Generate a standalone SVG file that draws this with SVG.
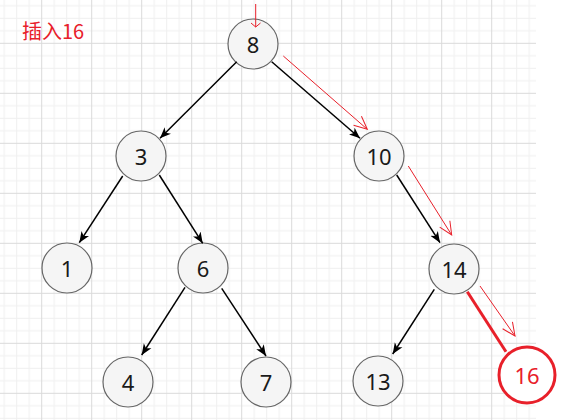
<svg xmlns="http://www.w3.org/2000/svg" width="566" height="420" viewBox="0 0 566 420">
  <defs>
    <pattern id="grid" patternUnits="userSpaceOnUse" x="41.2" y="42.8" width="50" height="50">
      <rect x="12.5" y="0" width="1" height="50" fill="#efefef"/>
      <rect x="25" y="0" width="1" height="50" fill="#efefef"/>
      <rect x="37.5" y="0" width="1" height="50" fill="#efefef"/>
      <rect x="0" y="12.5" width="50" height="1" fill="#efefef"/>
      <rect x="0" y="25" width="50" height="1" fill="#efefef"/>
      <rect x="0" y="37.5" width="50" height="1" fill="#efefef"/>
      <rect x="0" y="0" width="1" height="50" fill="#dadada"/>
      <rect x="0" y="0" width="50" height="1" fill="#dadada"/>
    </pattern>
    <marker id="arrow" markerUnits="userSpaceOnUse" markerWidth="12" markerHeight="10" refX="11" refY="5" orient="auto">
      <path d="M0,0.5 L11,5 L0,9.5 L3,5 Z" fill="#000"/>
    </marker>
    <marker id="redopen" markerUnits="userSpaceOnUse" markerWidth="16" markerHeight="14" refX="14" refY="7" orient="auto">
      <path d="M1,1 L14,7 L1,13" fill="none" stroke="#e8202a" stroke-width="1"/>
    </marker>
  </defs>
  <style>
    .node circle { fill: #f5f5f5; stroke: #666666; stroke-width: 1.2; }
    .node text { font-family: "Noto Sans", "DejaVu Sans", sans-serif; font-size: 22px; fill: #1a1a1a; text-anchor: middle; dominant-baseline: central; }
    .edge { stroke: #000; stroke-width: 1.5; fill: none; marker-end: url(#arrow); }
    .trace { stroke: #e8202a; stroke-width: 1; fill: none; marker-end: url(#redopen); }
    .red { fill: #e8202a; }
  </style>
  <rect x="0" y="0" width="566" height="420" fill="#ffffff"/>
  <rect x="0" y="0" width="536" height="420" fill="url(#grid)"/>

  <text x="22" y="39" font-family="'Noto Sans CJK SC', sans-serif" font-size="20" class="red">插入16</text>

  <g id="node-8" class="node"><circle cx="253" cy="44" r="25"/><text x="253" y="44">8</text></g>
  <g id="node-3" class="node"><circle cx="141" cy="156" r="25"/><text x="141" y="156">3</text></g>
  <g id="node-10" class="node"><circle cx="379" cy="156" r="25"/><text x="379" y="156">10</text></g>
  <g id="node-1" class="node"><circle cx="67" cy="268" r="25"/><text x="67" y="268">1</text></g>
  <g id="node-6" class="node"><circle cx="203" cy="268" r="25"/><text x="203" y="268">6</text></g>
  <g id="node-14" class="node"><circle cx="454" cy="269" r="25"/><text x="454" y="269">14</text></g>
  <g id="node-4" class="node"><circle cx="128" cy="382" r="25"/><text x="128" y="382">4</text></g>
  <g id="node-7" class="node"><circle cx="266" cy="382" r="25"/><text x="266" y="382">7</text></g>
  <g id="node-13" class="node"><circle cx="378" cy="381" r="25"/><text x="378" y="381">13</text></g>
  <g id="node-16"><circle cx="527" cy="375" r="28" fill="#ffffff" stroke="#e8202a" stroke-width="3"/><text x="527" y="375" font-family="'Noto Sans', sans-serif" font-size="22" class="red" text-anchor="middle" dominant-baseline="central">16</text></g>

  <g id="connectors">
    <path class="edge" d="M236.7,61.7 L160,138.3"/>
    <path class="edge" d="M271.7,61.7 L360,138.3"/>
    <path class="edge" d="M122.7,176 L79.3,242.7"/>
    <path class="edge" d="M159.3,175 L202.7,243.3"/>
    <path class="edge" d="M185,287.3 L141.7,355"/>
    <path class="edge" d="M221.7,288.3 L266,356"/>
    <path class="edge" d="M396.7,175 L440,242.7"/>
    <path class="edge" d="M434.3,289.3 L392.7,354"/>
    <path d="M467.3,291.7 L506,351.7" stroke="#e8202a" stroke-width="3" fill="none"/>
    <path d="M255.7,4 L255.7,27 M251,23 L255.7,27 L260.5,23" stroke="#e8202a" stroke-width="1" fill="none"/>
    <path class="trace" d="M283.3,56 L367.3,129.3"/>
    <path class="trace" d="M408.3,166 L451.7,235"/>
    <path class="trace" d="M480,286 L515,336"/>
  </g>
</svg>
